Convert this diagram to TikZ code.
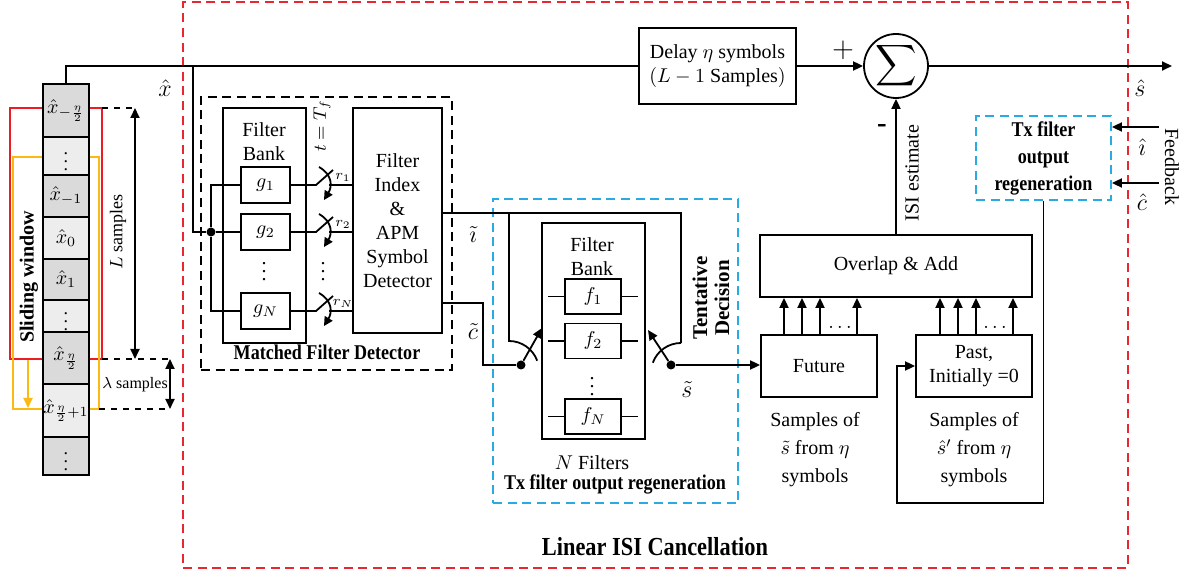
\documentclass[tikz,border=0pt]{standalone}
\usepackage{amsmath,amssymb}
\usepackage{fontspec}
\setmainfont{Liberation Serif}
\newfontfamily\condfont[FakeStretch=0.86]{Liberation Serif}
\usetikzlibrary{arrows.meta,positioning,calc}
\definecolor{winred}    {RGB}{237,28,36}
\definecolor{winorange} {RGB}{253,185,19}
\definecolor{isired}    {RGB}{232,40,48}
\definecolor{regblue}   {RGB}{41,171,226}
\definecolor{celldark}  {RGB}{218,218,218}
\definecolor{celllight} {RGB}{237,237,237}
\tikzset{
  wire/.style   ={line width=0.9pt},
  blk/.style    ={draw, wire, align=center, inner sep=1pt},
  cell/.style   ={draw, wire, minimum width=23pt, inner sep=0pt},
  gbox/.style   ={blk, minimum width=24.5pt, minimum height=18pt},
  fbox/.style   ={blk, minimum width=28pt, minimum height=17.5pt},
  grpbox/.style ={draw, wire, dash pattern=on 4.5pt off 2.8pt, inner sep=0pt},
  arr/.style    ={wire, -{Triangle[length=5pt,width=4.5pt]}},
  darr/.style   ={wire, {Triangle[length=5pt,width=4.5pt]}-{Triangle[length=5pt,width=4.5pt]}},
  dotnode/.style={circle, fill, inner sep=0pt, minimum size=4.5pt},
  boldlbl/.style={font=\condfont\bfseries\fontsize{10.5}{12}\selectfont, align=center},
  caplbl/.style ={font=\fontsize{10}{14}\selectfont, align=center},
}

\begin{document}
\begin{tikzpicture}[x=0.5pt, y=-0.5pt]
\useasboundingbox (0,0) rectangle (1195,576);

%% ─── Frames ──────────────────────────────────────────────────────────────────
\node[grpbox, draw=isired, minimum width=472.5pt, minimum height=283pt] (isi) at (655.5,285) {};
\node[font=\condfont\bfseries\fontsize{13}{13}\selectfont] (isilbl) at (655,547) {Linear ISI Cancellation};

\node[grpbox, minimum width=125.5pt, minimum height=136.5pt] (mfd) at (326.5,233.5) {};
\node[grpbox, draw=regblue, minimum width=122.5pt, minimum height=152pt] (regL) at (615.5,351) {};

%% ─── Sliding window ──────────────────────────────────────────────────────────
\draw[winred, line width=1.3pt] (10,108) rectangle (102,359);
\draw[winorange, line width=1.3pt] (13,157) rectangle (99,409);
\coordinate (slA) at (28,360);
\coordinate (slB) at (28,408);
\draw[arr, winorange] (slA) -- (slB);
\node[rotate=90, font=\bfseries] (swlbl) at (29,277) {Sliding window};

\foreach \n/\t/\b/\c/\l in {
  1/84/137/celldark/{$\hat{x}_{-\frac{\eta}{2}}$},
  2/137/175/celllight/{\small$\vdots$},
  3/175/217/celldark/{$\hat{x}_{-1}$},
  4/217/259/celllight/{$\hat{x}_{0}$},
  5/259/300/celldark/{$\hat{x}_{1}$},
  6/300/332/celllight/{\small$\vdots$},
  7/332/384/celldark/{$\hat{x}_{\frac{\eta}{2}}$},
  8/384/437/celllight/{$\hat{x}_{\frac{\eta}{2}+1}$},
  9/437/475/celldark/{\small$\vdots$}}{
  \node[cell, fill=\c, minimum height={(\b-\t)*0.5pt}] (c\n) at (66,{(\t+\b)/2}) {\l};
}

\coordinate (Ltop) at (135,108);
\coordinate (Lbot) at (135,359);
\coordinate (lamtop) at (170,359);
\coordinate (lambot) at (170,409);
\draw[wire, dashed] (102,108) -- (Ltop);
\draw[wire, dashed] (102,359) -- (lamtop);
\draw[wire, dashed] (99,409) -- (lambot);
\draw[darr] (Ltop) -- (Lbot);
\draw[darr] (lamtop) -- (lambot);
\node[rotate=90, font=\small] (Llbl) at (118,232) {$L$ samples};
\node[font=\footnotesize] (lamlbl) at (135,385) {$\lambda$ samples};

%% ─── Main path ───────────────────────────────────────────────────────────────
\node[blk, minimum width=78.5pt, minimum height=38pt] (delay) at (717.5,66)
  {Delay $\eta$ symbols\\$(L-1$ Samples$)$};
\node[draw, wire, circle, minimum size=32pt, inner sep=0pt] (sum) at (896,66)
  {\Large$\displaystyle\sum$};
\coordinate (shat) at (1172,66);
\coordinate (tap) at (193,66);

\draw[wire] (c1.north) |- (delay.west);
\draw[arr] (delay) -- (sum);
\draw[arr] (sum) -- (shat);
\node (xlbl) at (165,88) {\large$\hat{x}$};
\node (plus) at (843,50) {\Large$+$};
\node (shatlbl) at (1140,88) {\large$\hat{s}$};

%% ─── Matched filter detector ─────────────────────────────────────────────────
\node[blk, minimum width=41.5pt, minimum height=117.5pt] (fbL) at (264.5,225.5) {};
\node[align=center] (fbLtxt) at (264,142) {Filter\\Bank};
\foreach \i/\y/\s in {1/185/1, 2/232/2, 3/311/N}{
  \node[gbox] (g\i) at (265.5,\y) {$g_{\s}$};
}
\node (gdots) at (264,266) {$\vdots$};
\node[dotnode] (tapdot) at (211,232) {};
\draw[wire] (tap) |- (tapdot);
\draw[wire] (g1.west) -| (tapdot) |- (g3.west);
\draw[wire] (tapdot) -- (g2.west);

\node[blk, minimum width=44.5pt, minimum height=112.5pt] (det) at (397.5,220.5)
  {Filter\\Index\\\&\\APM\\Symbol\\Detector};

\foreach \i/\y/\s in {1/185/1, 2/232/2, 3/311/N}{
  \coordinate (r\i) at (329,\y);
  \draw[wire] (g\i.east) -- (316,\y) -- (333,{\y-15});
  \draw[wire] (r\i) -- (r\i -| det.west);
  \draw[wire, -{Triangle[length=4.5pt,width=4.5pt]}]
    (319,{\y-18}) .. controls (333,{\y-10}) and (332,{\y+2}) .. (324,{\y+15});
  \node[font=\scriptsize] (rl\i) at (343,{\y-8}) {$r_{\s}$};
}
\node (rdots) at (323,266) {$\vdots$};
\node[rotate=90, font=\small] (tsamp) at (322,126) {$t = T_f$};
\node[boldlbl] (mfdlbl) at (327,352) {Matched Filter Detector};

%% ─── Tx filter output regeneration (tentative) ───────────────────────────────
\node[blk, minimum width=51.5pt, minimum height=108pt] (fbR) at (593.5,331) {};
\node[align=center] (fbRtxt) at (592,257) {Filter\\Bank};
\foreach \i/\y/\s in {1/296.5/1, 2/341/2, 3/416.5/N}{
  \node[fbox] (f\i) at (593,\y) {$f_{\s}$};
  \draw[wire] (f\i.west) -- ++(-16,0);
  \draw[wire] (f\i.east) -- ++(16,0);
}
\node (fdots) at (592,381) {$\vdots$};
\node (nfl) at (592,463) {$N$ Filters};
\node[boldlbl] (reglbl) at (615,484) {Tx filter output regeneration};

\node[dotnode] (swL) at (521,365) {};
\node[dotnode] (swR) at (671,365) {};
\coordinate (iL) at (509,341);
\coordinate (iR) at (681,343);
\coordinate (armL) at (542,328);
\coordinate (armR) at (648,330);

\draw[wire] ([yshift=3.75pt]det.east) -| (iR);
\draw[wire] (iL |- 0,213) -- (iL) arc[start angle=-90, end angle=-20, radius=30];
\draw[wire] (iR) arc[start angle=-90, end angle=-160, radius=30];
\draw[wire] ([yshift=-41.25pt]det.east) -- (483,303) |- (swL);
\draw[arr] (swL) -- (armL);
\draw[arr] (swR) -- (armR);

\node (ilbl) at (473,235) {\large$\tilde{\imath}$};
\node (clbl) at (473,332) {\large$\tilde{c}$};
\node (slbl) at (687,390) {\large$\tilde{s}$};
\node[rotate=90, font=\bfseries\fontsize{10.5}{11}\selectfont, align=center] (tent) at (711,298)
  {Tentative\\Decision};

%% ─── ISI estimation ──────────────────────────────────────────────────────────
\node[blk, minimum width=136pt, minimum height=31pt] (ola) at (896,266) {Overlap \& Add};
\node[blk, minimum width=58pt, minimum height=31pt] (fut) at (819,366) {Future};
\node[blk, minimum width=58pt, minimum height=31pt] (past) at (974,366) {Past,\\ Initially =0};

\draw[arr] (swR) -- (swR -| fut.west);
\draw[arr] (ola) -- (sum);
\node (minus) at (882,129) {\Large\bfseries -};
\node[rotate=90] (isiest) at (912,173) {ISI estimate};

\foreach \x in {784,802,820,857}{
  \draw[arr] (fut.north -| \x,0) -- (ola.south -| \x,0);
}
\foreach \x in {940,958,976,1013}{
  \draw[arr] (past.north -| \x,0) -- (ola.south -| \x,0);
}
\node (futdots) at (840,327) {$\ldots$};
\node (pastdots) at (995,327) {$\ldots$};

\node[caplbl] (futcap) at (815,450) {Samples of\\$\tilde{s}$ from $\eta$\\symbols};
\node[caplbl] (pastcap) at (974,450) {Samples of\\$\hat{s}'$ from $\eta$\\symbols};

%% ─── Feedback regeneration ───────────────────────────────────────────────────
\node[grpbox, draw=regblue, minimum width=67.5pt, minimum height=42pt,
      font=\condfont\bfseries\fontsize{10.5}{13.5}\selectfont, align=center]
  (txr) at (1043.5,158) {Tx filter\\output\\regeneration};
\coordinate (fbi) at (1159,127);
\coordinate (fbc) at (1159,183);
\coordinate (loop) at (897,503);
\draw[arr] (fbi) -- (fbi -| txr.east);
\draw[arr] (fbc) -- (fbc -| txr.east);
\node (ihlbl) at (1142,147) {\large$\hat{\imath}$};
\node (chlbl) at (1142,202) {\large$\hat{c}$};
\node[rotate=-90] (fblbl) at (1172,167) {Feedback};
\draw[arr] (txr.south) |- (loop) |- (past.west);

\end{tikzpicture}
\end{document}
